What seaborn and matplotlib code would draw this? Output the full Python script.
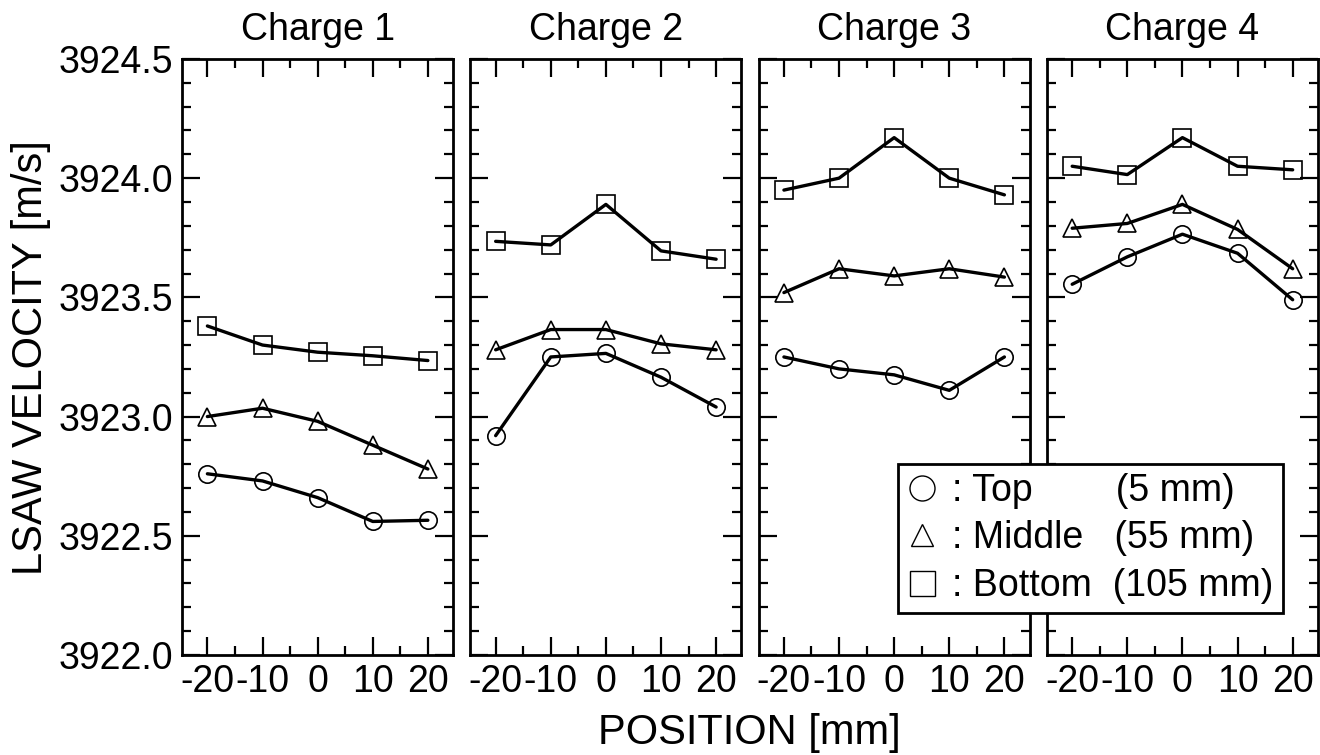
import numpy as np
import pandas as pd
import seaborn as sns
import matplotlib
matplotlib.use("Agg")
import matplotlib.pyplot as plt
from matplotlib.lines import Line2D
from matplotlib.ticker import MultipleLocator, FormatStrFormatter

# ---- data ----
positions = [-20, -10, 0, 10, 20]
charges = ["Charge 1", "Charge 2", "Charge 3", "Charge 4"]

top_c1 = [3922.76, 3922.73, 3922.66, 3922.56, 3922.565]
mid_c1 = [3923.00, 3923.035, 3922.98, 3922.88, 3922.78]
bot_c1 = [3923.38, 3923.30, 3923.27, 3923.255, 3923.235]

top_c2 = [3922.92, 3923.25, 3923.265, 3923.165, 3923.04]
mid_c2 = [3923.28, 3923.365, 3923.365, 3923.305, 3923.28]
bot_c2 = [3923.735, 3923.72, 3923.89, 3923.695, 3923.66]

top_c3 = [3923.25, 3923.20, 3923.175, 3923.11, 3923.25]
mid_c3 = [3923.52, 3923.62, 3923.59, 3923.62, 3923.585]
bot_c3 = [3923.95, 3924.00, 3924.17, 3924.00, 3923.93]

top_c4 = [3923.555, 3923.67, 3923.765, 3923.685, 3923.49]
mid_c4 = [3923.79, 3923.81, 3923.89, 3923.785, 3923.62]
bot_c4 = [3924.05, 3924.015, 3924.17, 3924.05, 3924.035]

levels = ["Top", "Middle", "Bottom"]
legend_labels = [": Top        (5 mm)", ": Middle   (55 mm)", ": Bottom  (105 mm)"]
series = {
    "Charge 1": [top_c1, mid_c1, bot_c1],
    "Charge 2": [top_c2, mid_c2, bot_c2],
    "Charge 3": [top_c3, mid_c3, bot_c3],
    "Charge 4": [top_c4, mid_c4, bot_c4],
}
markers = {"Top": "o", "Middle": "^", "Bottom": "s"}

rows = []
for ch in charges:
    for lev, vals in zip(levels, series[ch]):
        for p, v in zip(positions, vals):
            rows.append({"charge": ch, "level": lev, "pos": p, "v": v})
df = pd.DataFrame(rows)

# ---- style ----
sns.set_theme(style="ticks")
plt.rcParams["font.family"] = ["Liberation Sans", "DejaVu Sans"]
plt.rcParams["axes.unicode_minus"] = False
for k in ["text.color", "axes.labelcolor", "xtick.color", "ytick.color", "axes.edgecolor"]:
    plt.rcParams[k] = "black"

fig, axes = plt.subplots(1, 4, figsize=(13.2, 7.55), dpi=100, sharey=True)
fig.subplots_adjust(left=0.1379, right=0.9985, top=0.9219, bottom=0.1325, wspace=0.063)

for ax, ch in zip(axes, charges):
    sub = df[df["charge"] == ch]
    for lev in levels:
        d = sub[sub["level"] == lev]
        sns.lineplot(data=d, x="pos", y="v", ax=ax, color="black", linewidth=2.4,
                     marker=markers[lev], markersize=12.5, markerfacecolor="none",
                     markeredgecolor="black", markeredgewidth=1.2, legend=False)
    ax.set_xlim(-24.6, 24.6)
    ax.set_ylim(3922.0, 3924.5)
    ax.xaxis.set_major_locator(MultipleLocator(10))
    ax.xaxis.set_minor_locator(MultipleLocator(5))
    ax.yaxis.set_major_locator(MultipleLocator(0.5))
    ax.yaxis.set_minor_locator(MultipleLocator(0.1))
    ax.yaxis.set_major_formatter(FormatStrFormatter("%.1f"))
    ax.tick_params(which="both", direction="in", top=True, right=True, color="black",
                   width=1.6, labelsize=27, pad=6.5, labelcolor="black")
    ax.tick_params(which="major", length=13)
    ax.tick_params(which="minor", length=6.5)
    for s in ax.spines.values():
        s.set_linewidth(2.0)
        s.set_color("black")
    ax.set_xlabel("")
    ax.set_ylabel("")
    ax.set_title(ch, fontsize=27, pad=14, color="black")

for ax in axes[1:]:
    ax.tick_params(labelleft=False)

fig.text(0.0235, 0.527, "LSAW VELOCITY [m/s]", rotation=90, ha="center", va="center",
         fontsize=30, color="black")
fig.text(0.568, 0.003, "POSITION [mm]", ha="center", va="bottom", fontsize=30, color="black")

handles = [
    Line2D([], [], linestyle="none", marker="o", markersize=18, markerfacecolor="none",
           markeredgecolor="black", markeredgewidth=1.0),
    Line2D([], [], linestyle="none", marker="^", markersize=16, markerfacecolor="none",
           markeredgecolor="black", markeredgewidth=1.0),
    Line2D([], [], linestyle="none", marker="s", markersize=18, markerfacecolor="none",
           markeredgecolor="black", markeredgewidth=1.0),
]
leg = fig.legend(handles, legend_labels, loc="lower left", bbox_to_anchor=(0.680, 0.188),
                 bbox_transform=fig.transFigure, borderaxespad=0, fontsize=27,
                 frameon=True, fancybox=False, framealpha=1, edgecolor="black",
                 handlelength=0.8, handletextpad=0.4, borderpad=0.25, labelspacing=0.3)
leg.get_frame().set_linewidth(2.0)
for t in leg.get_texts():
    t.set_color("black")
leg.set_zorder(10)

fig.savefig("out.png", dpi=100)
